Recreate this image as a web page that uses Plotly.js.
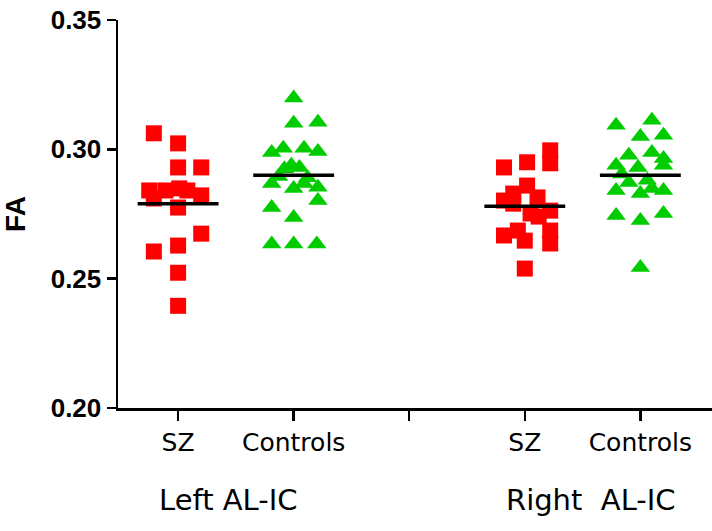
<!DOCTYPE html>
<html>
<head>
<meta charset="utf-8">
<script src="https://cdn.plot.ly/plotly-3.0.1.min.js"></script>
<style>html,body{margin:0;padding:0;background:#fff;}#chart{width:712px;height:531px;}</style>
</head>
<body>
<div id="chart"></div>
<script>
// Category tick labels (slot 3 is an empty separator)
var tickLabels = ['SZ', 'Controls', '', 'SZ', 'Controls'];
var regionLabels = ['Left AL-IC', 'Right\u00a0 AL-IC'];

// FA values
var szLeft = [0.3062, 0.3023, 0.2930, 0.2930, 0.2841, 0.2810, 0.2841, 0.2849, 0.2841, 0.2822, 0.2775, 0.2674, 0.2628, 0.2605, 0.2523, 0.2395];
var szLeftJitter = [-0.21, 0, 0, 0.20, -0.25, -0.21, -0.11, 0.01, 0.08, 0.20, 0, 0.20, 0, -0.21, 0, 0];

var ctlLeft = [0.3198, 0.3101, 0.3105, 0.2988, 0.3004, 0.3004, 0.2992, 0.2938, 0.2925, 0.2930, 0.2895, 0.2890, 0.2868, 0.2849, 0.2868, 0.2853, 0.2802, 0.2775, 0.2736, 0.2634, 0.2634, 0.2634];
var ctlLeftJitter = [0, 0, 0.21, -0.19, -0.09, 0.09, 0.21, -0.02, -0.08, 0.05, -0.13, 0.12, -0.19, 0, 0.09, 0.21, 0.21, -0.19, 0, -0.19, 0, 0.20];

var szRight = [0.2996, 0.2946, 0.2950, 0.2930, 0.2860, 0.2829, 0.2802, 0.2814, 0.2790, 0.2763, 0.2752, 0.2740, 0.2686, 0.2636, 0.2667, 0.2686, 0.2647, 0.2539];
var szRightJitter = [0.22, 0.22, 0.02, -0.18, 0.02, -0.10, -0.18, 0.11, -0.10, 0.22, 0.05, 0.12, 0.22, 0.22, -0.18, -0.06, 0, 0];

var ctlRight = [0.3093, 0.3112, 0.3050, 0.3054, 0.2977, 0.2988, 0.2965, 0.2938, 0.2930, 0.2938, 0.2905, 0.2880, 0.2872, 0.2841, 0.2829, 0.2849, 0.2841, 0.2744, 0.2725, 0.2752, 0.2543];
var ctlRightJitter = [-0.21, 0.10, 0, 0.20, -0.10, 0.10, 0.20, -0.21, -0.02, 0.20, -0.16, 0.06, -0.10, -0.21, 0, 0.10, 0.20, -0.21, 0, 0.20, 0];

// Group means (horizontal bars)
var groupMeans = [0.279, 0.290, 0.278, 0.290];

var yTicks = [0.20, 0.25, 0.30, 0.35];
var yTickText = ['0.20', '0.25', '0.30', '0.35'];

// ---- build traces ----
var slots = [1, 2, 4, 5];
var groups = [
  {v: szLeft, j: szLeftJitter, sym: 'square', col: '#ff0000', size: 16},
  {v: ctlLeft, j: ctlLeftJitter, sym: 'triangle-up', col: '#00cc00', size: 17},
  {v: szRight, j: szRightJitter, sym: 'square', col: '#ff0000', size: 16},
  {v: ctlRight, j: ctlRightJitter, sym: 'triangle-up', col: '#00cc00', size: 17}
];
var traces = [];
groups.forEach(function (g, i) {
  traces.push({
    type: 'scatter', mode: 'markers',
    x: g.j.map(function (d) { return slots[i] + d; }),
    y: g.v,
    marker: {symbol: g.sym, color: g.col, size: g.size, line: {width: 0}},
    hoverinfo: 'y', showlegend: false
  });
});
var mx = [], my = [];
groupMeans.forEach(function (m, i) {
  mx.push(slots[i] - 0.35, slots[i] + 0.35, null);
  my.push(m, m, null);
});
traces.push({type: 'scatter', mode: 'lines', x: mx, y: my,
  line: {color: '#000', width: 3.5}, hoverinfo: 'skip', showlegend: false});

var wideFont = 'DejaVu Sans, Verdana, sans-serif';
var layout = {
  width: 712, height: 531,
  margin: {l: 118, r: 0, t: 20, b: 123, pad: 0},
  paper_bgcolor: '#fff', plot_bgcolor: '#fff',
  font: {family: 'Liberation Sans, Arial, sans-serif', color: '#000'},
  xaxis: {
    range: [0.48, 5.62], showgrid: false, zeroline: false,
    showline: true, linecolor: '#000', linewidth: 2.5,
    tickmode: 'array', tickvals: [1, 2, 3, 4, 5], ticktext: tickLabels,
    ticks: 'outside', ticklen: 10, tickwidth: 2.5, tickcolor: '#000',
    tickfont: {size: 25, family: wideFont, color: '#000'},
    fixedrange: true
  },
  yaxis: {
    range: [0.20, 0.35], showgrid: false, zeroline: false,
    showline: true, linecolor: '#000', linewidth: 2.5,
    tickmode: 'array', tickvals: yTicks, ticktext: yTickText,
    ticks: 'outside', ticklen: 9, tickwidth: 2.5, tickcolor: '#000',
    tickfont: {size: 26, weight: 'bold', family: 'Liberation Sans, Arial, sans-serif', color: '#000'},
    title: {text: 'FA', standoff: 18, font: {size: 28, weight: 'bold', family: 'Liberation Sans, Arial, sans-serif', color: '#000'}},
    fixedrange: true
  },
  annotations: [
    {text: regionLabels[0], x: 1.44, xref: 'x', y: -0.237, yref: 'paper',
     xanchor: 'center', yanchor: 'middle', showarrow: false,
     font: {size: 29, family: wideFont, color: '#000'}},
    {text: regionLabels[1], x: 4.57, xref: 'x', y: -0.237, yref: 'paper',
     xanchor: 'center', yanchor: 'middle', showarrow: false,
     font: {size: 29, family: wideFont, color: '#000'}}
  ],
  showlegend: false
};
Plotly.newPlot('chart', traces, layout, {displayModeBar: false, staticPlot: true});
</script>
</body>
</html>
